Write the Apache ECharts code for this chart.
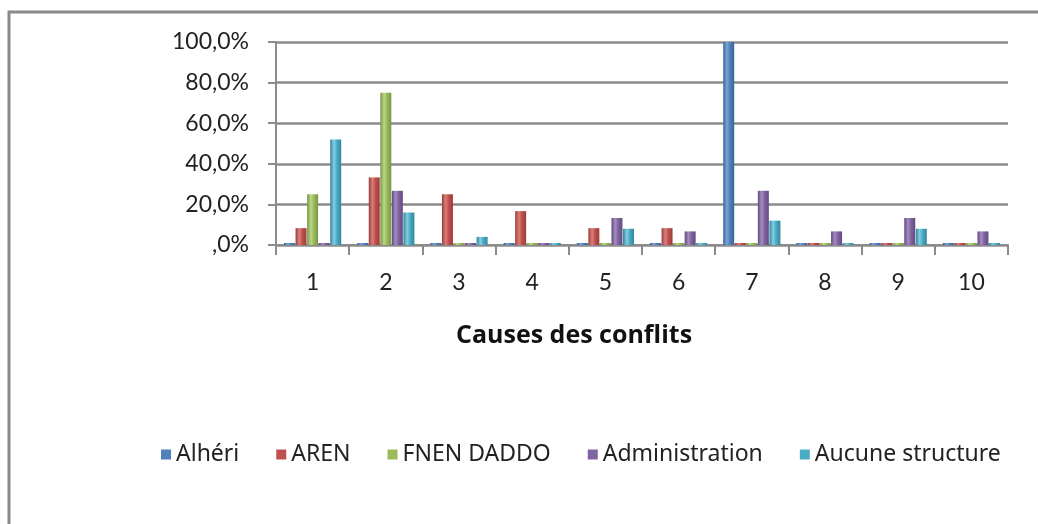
<!DOCTYPE html>
<html>
<head>
<meta charset="utf-8">
<script src="https://cdn.jsdelivr.net/npm/echarts@6/dist/echarts.min.js"></script>
<style>html,body{margin:0;padding:0;background:#fff}#c{width:1038px;height:524px}</style>
</head>
<body>
<div id="c"></div>
<script>
var categories = ['1','2','3','4','5','6','7','8','9','10'];
var seriesNames = ['Alhéri','AREN','FNEN DADDO','Administration','Aucune structure'];
var alheri = [0, 0, 0, 0, 0, 0, 100, 0, 0, 0];
var aren = [8.3, 33.3, 25, 16.7, 8.3, 8.3, 0, 0, 0, 0];
var fnen = [25, 75, 0, 0, 0, 0, 0, 0, 0, 0];
var administration = [0, 26.7, 0, 0, 13.3, 6.7, 26.7, 6.7, 13.3, 6.7];
var aucune = [52, 16, 4, 0, 8, 0, 12, 0, 8, 0];
var colors = ['#4f81bd','#c0504d','#9bbb59','#8064a2','#4bacc6'];
var dark = ['#3a6597','#9a3c39','#789446','#614c7e','#31869c'];
var light = ['#7ea3d3','#d9807d','#bcd68a','#a58cc2','#85cde0'];

function grad(i){
  return new echarts.graphic.LinearGradient(0,0,1,0,[
    {offset:0,color:dark[i]},{offset:0.35,color:light[i]},{offset:0.6,color:colors[i]},{offset:1,color:dark[i]}
  ]);
}
var data = [alheri, aren, fnen, administration, aucune];
var series = data.map(function(d,i){
  return {
    name: seriesNames[i], type:'bar', data:d,
    barWidth: 11, barGap: '5%', barMinHeight: 2,
    itemStyle:{color:grad(i)}
  };
});
var chart = echarts.init(document.getElementById('c'));
chart.setOption({
  animation:false,
  color: colors,
  graphic:[
    {type:'polyline', shape:{points:[[9,530],[9,12],[1045,12]]}, style:{stroke:'#898989', lineWidth:3, fill:null}},
    {type:'text', left:456, top:323, style:{text:'Causes des conflits', fontFamily:'Open Sans', fontSize:25, fontWeight:'bold', fill:'#111'}}
  ],
  grid:{left:276, right:30, top:42, bottom:279},
  legend:{
    data: seriesNames.map(function(n,i){return {name:n, itemStyle:{color:colors[i]}};}),
    left:156, top:438, itemWidth:10, itemHeight:10, itemGap:37, icon:'rect',
    textStyle:{fontFamily:'Noto Sans', fontSize:23, color:'#222'}
  },
  xAxis:{
    type:'category', data:categories,
    axisLine:{lineStyle:{color:'#8c8c8c', width:2}},
    axisTick:{show:true, length:10, lineStyle:{color:'#8c8c8c', width:2}},
    axisLabel:{fontFamily:'Lato', fontSize:23, color:'#222', margin:26}
  },
  yAxis:{
    type:'value', min:0, max:100, interval:20,
    axisLine:{show:true, lineStyle:{color:'#8c8c8c', width:2}},
    axisTick:{show:true, length:8, lineStyle:{color:'#8c8c8c', width:2}},
    splitLine:{lineStyle:{color:'#8c8c8c', width:2.5}},
    axisLabel:{fontFamily:'Lato', fontSize:23, color:'#222', margin:27,
      formatter:function(v){ return v===0 ? ',0%' : v.toFixed(1).replace('.',',')+'%'; }}
  },
  series: series
});
</script>
</body>
</html>
